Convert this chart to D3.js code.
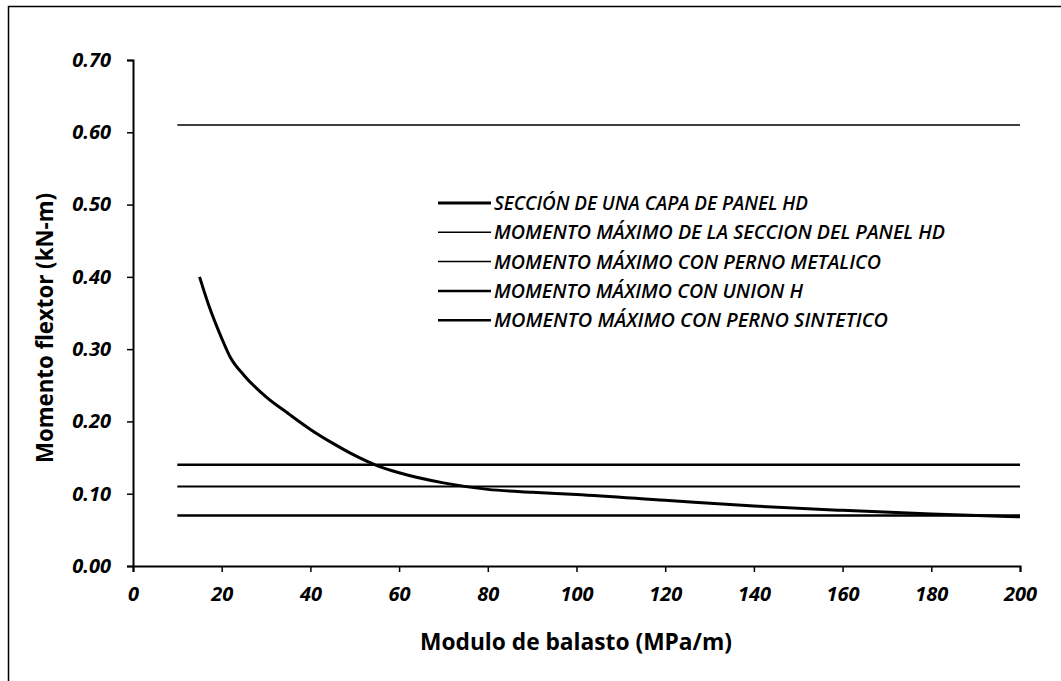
<!DOCTYPE html>
<html><head><meta charset="utf-8">
<script src="https://cdn.jsdelivr.net/npm/d3@7"></script>
<style>
html,body{margin:0;padding:0;background:#fff;}
svg{display:block;}
</style></head>
<body>
<svg id="chart" width="1061" height="681"></svg>
<script>
// ---- data ----
const curveX = [15, 17, 20, 22, 25, 30, 35, 40, 45, 50, 55, 60, 70, 80, 90, 100, 120, 140, 160, 180, 200];
const curveY = [0.40, 0.362, 0.315, 0.288, 0.264, 0.234, 0.211, 0.189, 0.170, 0.153, 0.139, 0.129, 0.115, 0.106, 0.102, 0.099, 0.091, 0.083, 0.077, 0.072, 0.068];
const hLineNames = ["MOMENTO MÁXIMO DE LA SECCION DEL PANEL HD", "MOMENTO MÁXIMO CON PERNO METALICO", "MOMENTO MÁXIMO CON UNION H", "MOMENTO MÁXIMO CON PERNO SINTETICO"];
const hLineValues = [0.61, 0.11, 0.14, 0.07];
const hLineXStart = 10, hLineXEnd = 200;
const curveName = "SECCIÓN DE UNA CAPA DE PANEL HD";
const xTicks = [0, 20, 40, 60, 80, 100, 120, 140, 160, 180, 200];
const yTicks = [0, 0.1, 0.2, 0.3, 0.4, 0.5, 0.6, 0.7];
const xTitle = "Modulo de balasto (MPa/m)";
const yTitle = "Momento flextor (kN-m)";

// ---- drawing ----
const svg = d3.select("#chart");
const FONT = "'Open Sans', Lato, sans-serif";
const mL = 133, mR = 1020, mT = 60, mB = 566;
const x = d3.scaleLinear().domain([0, 200]).range([mL, mR]);
const y = d3.scaleLinear().domain([0, 0.7]).range([mB, mT]);

// outer frame
svg.append("rect").attr("x", 8.5).attr("y", 6.5).attr("width", 1100).attr("height", 700)
  .attr("fill", "none").attr("stroke", "#000").attr("stroke-width", 1.5);

// axes
const xa = svg.append("g").attr("transform", `translate(0,${mB})`)
  .call(d3.axisBottom(x).tickValues(xTicks).tickFormat(d3.format("d")).tickSize(6).tickSizeOuter(6).tickPadding(15));
const ya = svg.append("g").attr("transform", `translate(${mL},0)`)
  .call(d3.axisLeft(y).tickValues(yTicks).tickFormat(d3.format(".2f")).tickSize(6).tickSizeOuter(6).tickPadding(16));
[xa, ya].forEach(g => {
  g.select(".domain").attr("stroke", "#000").attr("stroke-width", 2);
  g.selectAll(".tick line").attr("stroke", "#000").attr("stroke-width", 1.5);
  g.selectAll(".tick text").attr("fill", "#000").style("font-family", FONT)
    .style("font-size", "20px").style("font-weight", "700").style("font-style", "italic");
});

// horizontal lines
const widths = [1.5, 2, 2.5, 2.5];
hLineValues.forEach((v, i) => {
  svg.append("line").attr("x1", x(hLineXStart)).attr("x2", x(hLineXEnd))
    .attr("y1", y(v)).attr("y2", y(v)).attr("stroke", "#000").attr("stroke-width", widths[i]);
});

// curve
const pts = curveX.map((d, i) => [d, curveY[i]]);
svg.append("path").datum(pts)
  .attr("d", d3.line().x(d => x(d[0])).y(d => y(d[1])).curve(d3.curveMonotoneX))
  .attr("fill", "none").attr("stroke", "#000").attr("stroke-width", 3);

// legend
const legNames = [curveName].concat(hLineNames);
const legW = [3, 1.5, 1.5, 2.5, 2.5];
const legLen = [314, 451, 387, 309, 394];
legNames.forEach((n, i) => {
  const yy = 203 + i * 29.3;
  svg.append("line").attr("x1", 438).attr("x2", 491).attr("y1", yy).attr("y2", yy)
    .attr("stroke", "#000").attr("stroke-width", legW[i]);
  svg.append("text").attr("x", 494).attr("y", yy + 7).text(n)
    .attr("textLength", legLen[i]).attr("lengthAdjust", "spacingAndGlyphs")
    .style("font-family", FONT).style("font-size", "19px").style("font-weight", "600")
    .style("font-style", "italic").attr("fill", "#000");
});

// titles
svg.append("text").attr("x", 576).attr("y", 650).attr("text-anchor", "middle").text(xTitle)
  .attr("textLength", 312).attr("lengthAdjust", "spacingAndGlyphs")
  .style("font-family", FONT).style("font-size", "24px").style("font-weight", "700").attr("fill", "#000");
svg.append("text").attr("transform", "translate(52.5,328) rotate(-90)").attr("text-anchor", "middle").text(yTitle)
  .attr("textLength", 270).attr("lengthAdjust", "spacingAndGlyphs")
  .style("font-family", FONT).style("font-size", "23px").style("font-weight", "700").attr("fill", "#000");
</script>
</body></html>
